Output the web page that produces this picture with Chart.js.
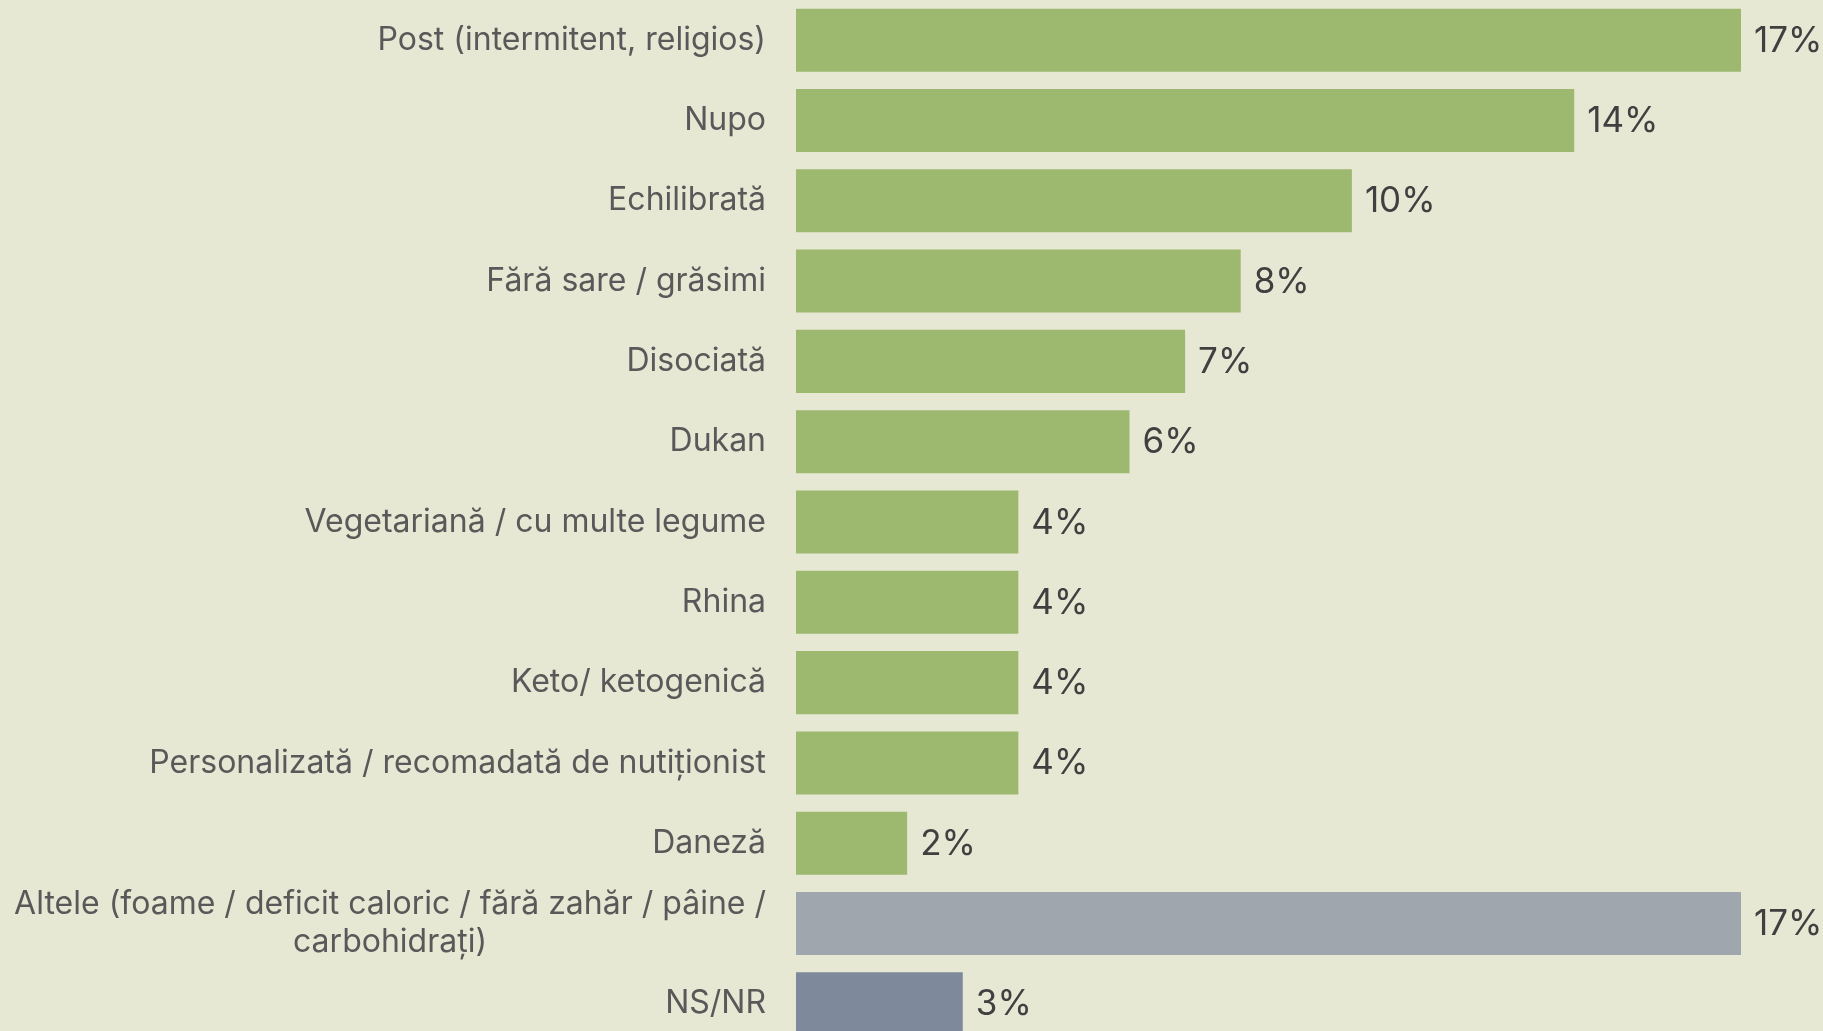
<!DOCTYPE html>
<html>
<head>
<meta charset="utf-8">
<script src="https://cdn.jsdelivr.net/npm/chart.js@4.4.1/dist/chart.umd.min.js"></script>
<style>
  html, body { margin: 0; padding: 0; background: #e7e8d4; overflow: hidden; }
  #wrap { position: relative; width: 1823px; height: 1044px; }
</style>
</head>
<body>
<div id="wrap"><canvas id="dietChart"></canvas></div>
<script>
const categories = [
  'Post (intermitent, religios)',
  'Nupo',
  'Echilibrată',
  'Fără sare / grăsimi',
  'Disociată',
  'Dukan',
  'Vegetariană / cu multe legume',
  'Rhina',
  'Keto/ ketogenică',
  'Personalizată / recomadată de nutiționist',
  'Daneză',
  ['Altele (foame / deficit caloric / fără zahăr / pâine /', 'carbohidrați)'],
  'NS/NR'
];
const values = [17, 14, 10, 8, 7, 6, 4, 4, 4, 4, 2, 17, 3];
const barColors = [
  '#9db86f', '#9db86f', '#9db86f', '#9db86f', '#9db86f', '#9db86f',
  '#9db86f', '#9db86f', '#9db86f', '#9db86f', '#9db86f',
  '#9fa6ae', '#7e899c'
];

const labelFont = '400 32px Inter';
const valueFont = '400 35px Inter';

// draws the category names (multi-line ones centred as a block) and the % values
const textPlugin = {
  id: 'texts',
  afterDatasetsDraw(chart) {
    const ctx = chart.ctx;
    const yScale = chart.scales.y;
    const meta = chart.getDatasetMeta(0);
    ctx.save();
    ctx.textBaseline = 'middle';

    ctx.font = labelFont;
    ctx.fillStyle = '#595959';
    const right = chart.chartArea.left - 30;
    categories.forEach((lab, i) => {
      const y = yScale.getPixelForTick(i);
      const lines = Array.isArray(lab) ? lab : [lab];
      const lh = 38;
      const maxW = Math.max(...lines.map(l => ctx.measureText(l).width));
      const cx = right - maxW / 2;
      ctx.textAlign = lines.length > 1 ? 'center' : 'right';
      lines.forEach((l, k) => {
        const ly = y + (k - (lines.length - 1) / 2) * lh;
        ctx.fillText(l, lines.length > 1 ? cx : right, ly);
      });
    });

    ctx.font = valueFont;
    ctx.fillStyle = '#404040';
    ctx.textAlign = 'left';
    meta.data.forEach((bar, i) => {
      ctx.fillText(values[i] + '%', bar.x + 13, bar.y + 1);
    });
    ctx.restore();
  }
};

new Chart(document.getElementById('dietChart'), {
  type: 'bar',
  data: {
    labels: categories,
    datasets: [{
      data: values,
      backgroundColor: barColors,
      borderWidth: 0,
      categoryPercentage: 1,
      barPercentage: 0.785
    }]
  },
  options: {
    indexAxis: 'y',
    responsive: true,
    maintainAspectRatio: false,
    animation: false,
    layout: { padding: { left: 0, right: 82, top: 0, bottom: 0 } },
    plugins: {
      legend: { display: false },
      tooltip: { enabled: false }
    },
    scales: {
      x: {
        min: 0,
        max: 17,
        display: false
      },
      y: {
        grid: { display: false, drawTicks: false },
        border: { display: false },
        ticks: { display: false },
        afterFit(scale) { scale.width = 796; }
      }
    }
  },
  plugins: [textPlugin]
});
</script>
</body>
</html>
